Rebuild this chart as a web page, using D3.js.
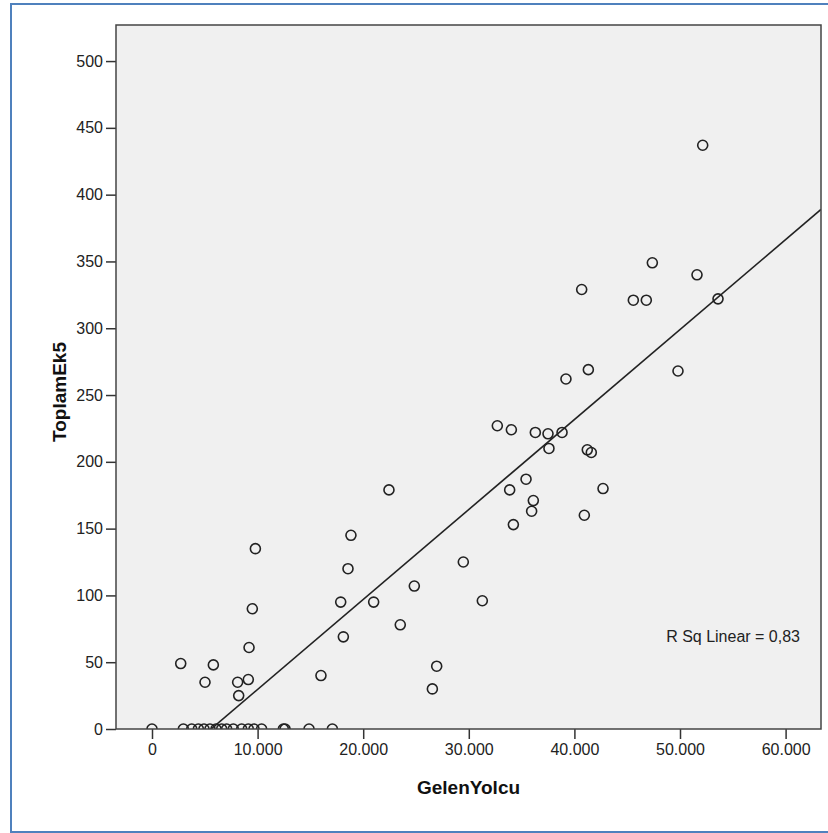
<!DOCTYPE html>
<html>
<head>
	<meta charset="UTF-8">
	<title>ToplamEk5 vs GelenYolcu</title>
	<script src="https://cdnjs.cloudflare.com/ajax/libs/d3/7.8.5/d3.min.js"></script>
	<style>
		body { margin: 0; background: #fff; }
		text { font-family: "Liberation Sans", Arial, sans-serif; fill: #222; }
		.tick text { font-size: 16px; }
		.tick line { stroke: #333; stroke-width: 1.5; }
		.title { font-size: 19px; font-weight: bold; fill: #111; }
		.dot { fill: none; stroke: #222; stroke-width: 1.6; }
		.fit { stroke: #222; stroke-width: 1.6; }
	</style>
</head>
<body>
	<script>
		// data
		var gelenYolcu = [
			52150, 47380, 51610, 40690, 45580, 46810, 53600, 41320, 39200, 49810,
			32700, 34030, 36300, 37500, 38830, 37590, 41220, 41600, 35420, 33870,
			42710, 36110, 35950, 40940, 34220,
			22440, 18840, 18560, 17870, 20990, 24840, 29480, 31280, 23510, 18120,
			16000, 26960, 26550,
			9790, 9500, 9190, 2720, 5810, 5020, 8110, 9120, 8210,
			0, 2970, 3760, 4390, 4920, 5490, 6060, 6600, 7070, 7700,
			8490, 9120, 9660, 10380, 12440, 12600, 14870, 17080
		];
		var toplamEk5 = [
			437, 349, 340, 329, 321, 321, 322, 269, 262, 268,
			227, 224, 222, 221, 222, 210, 209, 207, 187, 179,
			180, 171, 163, 160, 153,
			179, 145, 120, 95, 95, 107, 125, 96, 78, 69,
			40, 47, 30,
			135, 90, 61, 49, 48, 35, 35, 37, 25,
			0, 0, 0, 0, 0, 0, 0, 0, 0, 0,
			0, 0, 0, 0, 0, 0, 0, 0
		];
		var xTicks = [0, 10000, 20000, 30000, 40000, 50000, 60000];
		var yTicks = [0, 50, 100, 150, 200, 250, 300, 350, 400, 450, 500];
		var fitIntercept = -37.7, fitSlope = 0.006734;
		var rSquared = 0.83;

		var data = gelenYolcu.map(function(d, i) { return {x: d, y: toplamEk5[i]}; });

		// turkish number format: 10.000 and 0,83
		var tr = d3.formatLocale({decimal: ",", thousands: ".", grouping: [3], currency: ["", " TL"]});
		var fmtX = tr.format(",d"), fmtR = tr.format(".2f");

		// plot area
		var margin = {top: 25, left: 116},
		    width = 705,
		    height = 704;

		var x = d3.scaleLinear().domain([-3409, 63352]).range([0, width]);
		var y = d3.scaleLinear().domain([0, 527]).range([height, 0]);

		var svg = d3.select("body").append("svg")
		    .attr("width", 828)
		    .attr("height", 833);

		// blue frame round the whole output
		svg.append("rect")
		    .attr("x", 11).attr("y", 4)
		    .attr("width", 820).attr("height", 828)
		    .attr("fill", "none")
		    .attr("stroke", "#4f81bd")
		    .attr("stroke-width", 2);

		var g = svg.append("g")
		    .attr("transform", "translate(" + margin.left + "," + margin.top + ")");

		g.append("clipPath").attr("id", "clip")
		    .append("rect").attr("width", width).attr("height", height);

		g.append("rect")
		    .attr("width", width).attr("height", height)
		    .attr("fill", "#f0f0f0");

		// axes
		g.append("g")
		    .attr("transform", "translate(0," + height + ")")
		    .call(d3.axisBottom(x).tickValues(xTicks).tickFormat(fmtX).tickSize(10).tickPadding(5))
		    .call(function(a) { a.select(".domain").remove(); });

		g.append("g")
		    .call(d3.axisLeft(y).tickValues(yTicks).tickSize(10).tickPadding(3))
		    .call(function(a) { a.select(".domain").remove(); });

		var plot = g.append("g").attr("clip-path", "url(#clip)");

		// fit line
		var x0 = x.domain()[0], x1 = x.domain()[1];
		plot.append("line")
		    .attr("class", "fit")
		    .attr("x1", x(x0)).attr("y1", y(fitIntercept + fitSlope * x0))
		    .attr("x2", x(x1)).attr("y2", y(fitIntercept + fitSlope * x1));

		plot.selectAll(".dot")
		    .data(data)
		    .enter().append("circle")
		    .attr("class", "dot")
		    .attr("cx", function(d) { return x(d.x); })
		    .attr("cy", function(d) { return y(d.y); })
		    .attr("r", 5);

		// frame of the plot area
		g.append("rect")
		    .attr("width", width).attr("height", height)
		    .attr("fill", "none")
		    .attr("stroke", "#444")
		    .attr("stroke-width", 1.5);

		g.append("text")
		    .attr("x", 684).attr("y", 617)
		    .attr("text-anchor", "end")
		    .style("font-size", "16px")
		    .text("R Sq Linear = " + fmtR(rSquared));

		// axis titles
		g.append("text")
		    .attr("class", "title")
		    .attr("x", width / 2).attr("y", 769)
		    .attr("text-anchor", "middle")
		    .text("GelenYolcu");

		g.append("text")
		    .attr("class", "title")
		    .attr("transform", "translate(-50," + 367 + ") rotate(-90)")
		    .attr("text-anchor", "middle")
		    .text("ToplamEk5");
	</script>
</body>
</html>
